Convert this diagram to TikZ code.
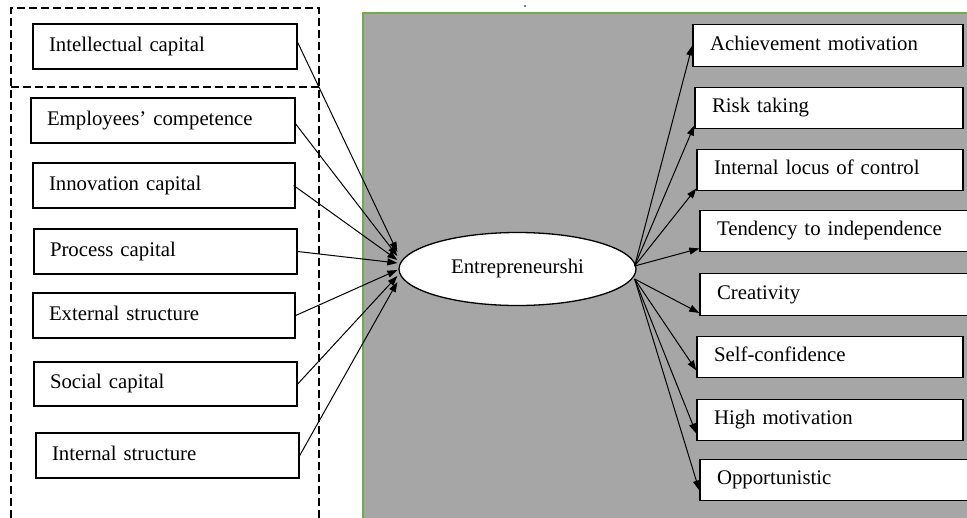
\documentclass[tikz,border=0pt]{standalone}
\usepackage{fontspec}
\setmainfont{Liberation Serif}
\usetikzlibrary{shapes.geometric,arrows.meta}
\definecolor{panelgray}{HTML}{A6A6A6}
\definecolor{panelgreen}{HTML}{70AD47}
\newcommand\lblfont{\fontsize{20.8}{25}\selectfont}
\tikzset{
  lbl/.style={font=\lblfont, text height=14pt, text depth=4.5pt},
  tbox/.style={lbl, draw, fill=white, line width=1.4pt, rectangle,
    inner xsep=16pt, inner ysep=0pt, align=left, text width=#1, minimum height=45pt},
  rbox/.style={tbox=#1, inner xsep=17pt, minimum height=41.5pt},
  core/.style={lbl, draw, fill=white, line width=1.3pt, ellipse, inner sep=0pt,
    minimum width=237pt, minimum height=73pt},
  link/.style={line width=1pt, -{Triangle[length=10pt,width=7pt]}},
  groupline/.style={line width=1.2pt, dash pattern=on 8pt off 4pt}
}
\begin{document}
\begin{tikzpicture}[x=1pt,y=-1pt]
\useasboundingbox (0,0) rectangle (967,517);
\clip (0,0) rectangle (967,517);

% grey panel behind the outcome side
\fill[panelgray] (363,13) rectangle (980,530);
\draw[panelgreen, line width=1.6pt] (363,530) -- (363,13) -- (980,13);
\fill (525,6) circle (0.9);

% dashed grouping frame on the left
\draw[groupline] (11,530) -- (11,8) -- (319,8) -- (319,530);
\draw[groupline] (11,87) -- (319,87);

% intellectual capital components
\node[tbox=232pt, minimum width=264pt] (ic)  at (165,46.5)  {Intellectual capital};
\node[tbox=232pt, minimum width=264pt] (ec)  at (163,120.5) {Employees’ competence};
\node[tbox=230pt, minimum width=262pt] (inn) at (164,185.5) {Innovation capital};
\node[tbox=231pt, minimum width=263pt] (pc)  at (165.5,251.5) {Process capital};
\node[tbox=230pt, minimum width=262pt] (es)  at (164,315.5) {External structure};
\node[tbox=231pt, minimum width=263pt, minimum height=44pt] (sc) at (165.5,384) {Social capital};
\node[tbox=231pt, minimum width=263pt] (is)  at (167.5,455.5) {Internal structure};

% central construct
\node[core] (E) at (517.5,269) {Entrepreneurshi};

% entrepreneurial traits
\node[rbox=236pt] (am) at (828,45.5)  {Achievement motivation};
\node[rbox=234pt] (rt) at (829,108)   {Risk taking};
\node[rbox=232pt] (il) at (830,170)   {Internal locus of control};
\node[rbox=234pt] (ti) at (834,231)   {Tendency to independence};
\node[rbox=234pt] (cr) at (834,294.5) {Creativity};
\node[rbox=232pt] (sf) at (830,357)   {Self-confidence};
\node[rbox=232pt] (hm) at (830,420)   {High motivation};
\node[rbox=234pt] (op) at (834,480)   {Opportunistic};

% inputs into entrepreneurship
\draw[link] ([yshift=4pt]ic.east) -- ([shift={(-1pt,17pt)}]E.west);
\draw[link] ([yshift=-3.5pt]ec.east) -- ([shift={(-1pt,13pt)}]E.west);
\draw[link] ([xshift=-2pt]inn.east) -- ([shift={(-1pt,9pt)}]E.west);
\draw[link] (pc.east) -- ([shift={(-1pt,6pt)}]E.west);
\draw[link] (es.east) -- ([shift={(-1pt,-1pt)}]E.west);
\draw[link] (sc.east) -- ([shift={(-1pt,-7pt)}]E.west);
\draw[link] (is.east) -- ([shift={(-1pt,-13pt)}]E.west);

% outputs to the traits
\draw[link] ([shift={(-2pt,3pt)}]E.east) -- (am.west);
\draw[link] ([shift={(-2pt,3pt)}]E.east) -- ([yshift=4pt]rt.south west);
\draw[link] ([shift={(-2pt,3pt)}]E.east) -- ([yshift=3pt]il.south west);
\draw[link] ([shift={(-2pt,3pt)}]E.east) -- ([yshift=4pt]ti.south west);
\draw[link] ([shift={(-2pt,-10pt)}]E.east) -- ([yshift=3pt]cr.south west);
\draw[link] ([shift={(-2pt,-10pt)}]E.east) -- ([yshift=8pt]sf.south west);
\draw[link] ([shift={(-2pt,-10pt)}]E.east) -- ([yshift=8pt]hm.south west);
\draw[link] ([shift={(-2pt,-10pt)}]E.east) -- ([yshift=11pt]op.south west);
\end{tikzpicture}
\end{document}
